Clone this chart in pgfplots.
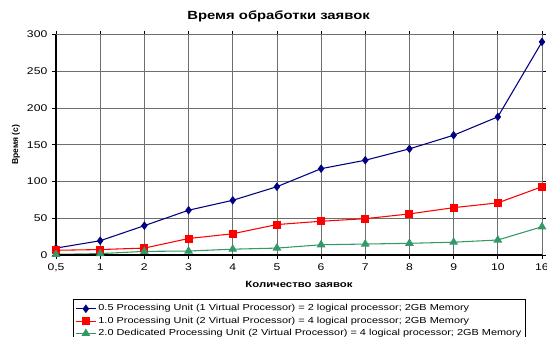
\documentclass[border=0pt]{standalone}
\usepackage{fontspec}
\setmainfont[FakeStretch=1.25]{Liberation Sans}
\newfontfamily\plainsans{Liberation Sans}
\usepackage{pgfplots}
\pgfplotsset{compat=1.18}

\definecolor{serA}{RGB}{0,0,128}
\definecolor{serB}{RGB}{255,0,0}
\definecolor{serC}{RGB}{51,153,102}
\definecolor{gridc}{RGB}{110,110,110}

\begin{document}
\begin{tikzpicture}
\begin{axis}[
  scale only axis,
  width=364.5pt, height=165.4pt,
  xmin=0, xmax=11, ymin=0, ymax=300,
  xtick={0,...,11},
  xticklabels={{0,5},1,2,3,4,5,6,7,8,9,10,16},
  ytick={0,50,...,300},
  grid=major,
  major grid style={gridc, line width=0.6pt},
  axis line style={draw=none},
  tick style={black, line width=0.5pt},
  tick align=outside,
  major tick length=3pt,
  ticklabel style={font=\fontsize{7.3}{8}\selectfont},
  /pgf/number format/assume math mode=true,
  xlabel={Количество заявок},
  ylabel={Время (с)},
  xlabel style={font=\bfseries\fontsize{6.8}{8}\selectfont, at={(axis description cs:0.5,-0.1315)}, anchor=center},
  ylabel style={font=\plainsans\bfseries\fontsize{6.4}{8}\selectfont, at={(axis description cs:-0.0823,0.5)}, anchor=center},
  title={Время обработки заявок},
  title style={font=\bfseries\fontsize{8.9}{10}\selectfont, at={(axis description cs:0.458,1.047)}, anchor=center},
  clip=false,
  legend cell align=left,
  legend style={at={(axis description cs:0.035,-0.199)}, anchor=north west,
    font=\fontsize{6.55}{7.6}\selectfont, draw=black, line width=0.5pt,
    inner xsep=1.5pt, inner ysep=2.5pt, row sep=0pt,
    nodes={inner ysep=1.5pt, inner xsep=1.5pt}},
  legend image code/.code={
    \draw[mark repeat=2,mark phase=2,#1] plot coordinates {(0pt,0pt) (7.5pt,0pt) (15pt,0pt)};},
  every axis plot/.append style={line width=0.8pt},
]
% Gray plot-area border on the top and right
\draw[gridc, line width=0.6pt] (axis cs:0,300) -- (axis cs:11,300) -- (axis cs:11,0);
\addplot[serA, mark=diamond*, mark size=2.6pt, mark options={solid}] coordinates {
  (0,9.5) (1,19.5) (2,40) (3,61) (4,74.5) (5,93) (6,117.5) (7,129) (8,144.5) (9,163) (10,188) (11,290)};
\addlegendentry{0.5 Processing Unit (1 Virtual Processor) = 2 logical processor; 2GB Memory}
\addplot[serB, mark=square*, mark size=2.6pt] coordinates {
  (0,6.5) (1,7.5) (2,9.5) (3,22.5) (4,29) (5,41.5) (6,46) (7,49.5) (8,56) (9,64.5) (10,71) (11,93)};
\addlegendentry{1.0 Processing Unit (2 Virtual Processor) = 4 logical processor; 2GB Memory}
\addplot[serC, mark=triangle*, mark size=3pt] coordinates {
  (0,1) (1,2) (2,5) (3,5.5) (4,8) (5,9.5) (6,14) (7,15) (8,16) (9,17.5) (10,20.5) (11,38.5)};
\addlegendentry{2.0 Dedicated Processing Unit (2 Virtual Processor) = 4 logical processor; 2GB Memory}
% Black axis lines on the left and bottom
\draw[black, line width=1.2pt] (axis cs:0,300) -- (axis cs:0,0) -- (axis cs:11,0);
\end{axis}
\pgfresetboundingbox
\path[use as bounding box] (-42pt,-60.75pt) rectangle (368.25pt,191.3pt);
\end{tikzpicture}
\end{document}
